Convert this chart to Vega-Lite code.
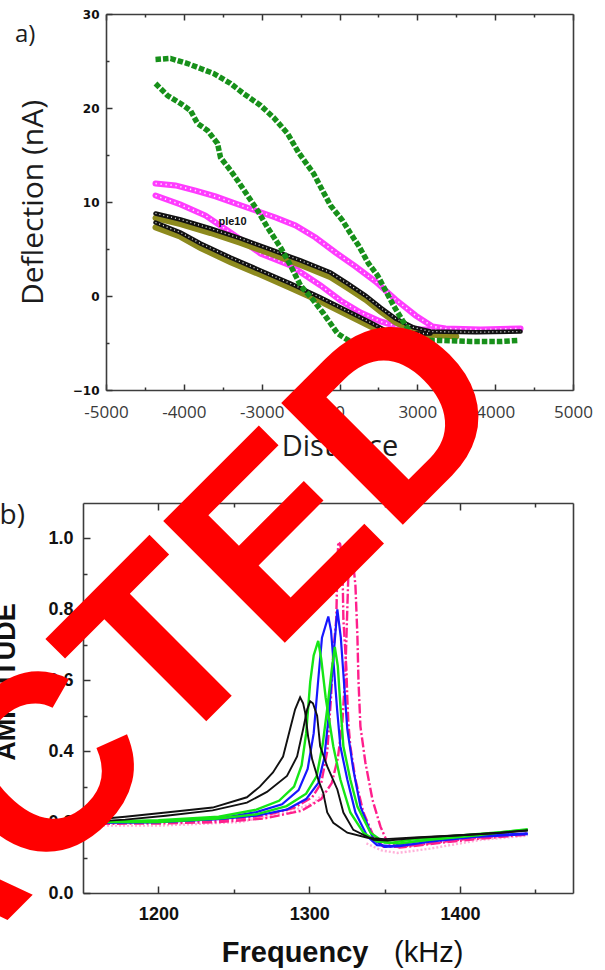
{
  "$schema": "https://vega.github.io/schema/vega-lite/v6.json",
  "autosize": {"type": "none"},
  "padding": {"left": 83, "top": 14, "right": 522, "bottom": 956},
  "background": "white",
  "bounds": "flush",
  "spacing": 113,
  "config": {
    "view": {"stroke": null},
    "axis": {"grid": false, "labelFlush": false, "labelOverlap": false}
  },
  "datasets": {
    "gr": [
      {"b":"u","d":-4728,"n":25.16},{"b":"u","d":-4342,"n":25.27},{"b":"u","d":-3905,"n":24.73},{"b":"u","d":-3571,"n":24.2},{"b":"u","d":-3237,"n":23.67},{"b":"u","d":-2800,"n":22.61},{"b":"u","d":-2466,"n":21.54},{"b":"u","d":-2029,"n":20.27},{"b":"u","d":-1695,"n":18.99},{"b":"u","d":-1335,"n":17.29},{"b":"u","d":-1053,"n":15.27},{"b":"u","d":-667,"n":13.03},{"b":"u","d":-410,"n":11.01},{"b":"u","d":-230,"n":9.63},{"b":"u","d":78,"n":8.03},{"b":"u","d":284,"n":6.65},{"b":"u","d":489,"n":5.37},{"b":"u","d":746,"n":3.46},{"b":"u","d":978,"n":2.18},{"b":"u","d":1183,"n":0.59},{"b":"u","d":1389,"n":-1.01},{"b":"u","d":1620,"n":-2.61},{"b":"u","d":1826,"n":-3.88},{"b":"u","d":2083,"n":-4.73},{"b":"u","d":2597,"n":-4.73},{"b":"u","d":3368,"n":-4.84},{"b":"u","d":4139,"n":-4.84},{"b":"u","d":4601,"n":-4.73},
      {"b":"l","d":-4728,"n":22.61},{"b":"l","d":-4419,"n":21.33},{"b":"l","d":-4085,"n":20.48},{"b":"l","d":-3828,"n":19.73},{"b":"l","d":-3648,"n":18.35},{"b":"l","d":-3391,"n":17.61},{"b":"l","d":-3134,"n":16.22},{"b":"l","d":-3057,"n":14.73},{"b":"l","d":-2800,"n":13.35},{"b":"l","d":-2620,"n":12.29},{"b":"l","d":-2363,"n":10.69},{"b":"l","d":-2106,"n":9.1},{"b":"l","d":-1849,"n":7.29},{"b":"l","d":-1515,"n":5.16},{"b":"l","d":-1258,"n":3.24},{"b":"l","d":-1001,"n":1.12},{"b":"l","d":-667,"n":-0.48},{"b":"l","d":-410,"n":-1.86},{"b":"l","d":-230,"n":-2.93},{"b":"l","d":-50,"n":-3.99},{"b":"l","d":104,"n":-4.41},{"b":"l","d":284,"n":-4.84},{"b":"l","d":800,"n":-5.0},{"b":"l","d":1400,"n":-5.0},{"b":"l","d":2000,"n":-4.9}
    ],
    "mg": [
      {"b":"u","d":-4728,"n":11.97},{"b":"u","d":-4214,"n":11.76},{"b":"u","d":-3700,"n":11.22},{"b":"u","d":-3186,"n":10.59},{"b":"u","d":-2672,"n":9.84},{"b":"u","d":-2158,"n":9.1},{"b":"u","d":-1644,"n":8.35},{"b":"u","d":-1130,"n":7.5},{"b":"u","d":-616,"n":6.22},{"b":"u","d":-102,"n":4.63},{"b":"u","d":412,"n":3.14},{"b":"u","d":926,"n":1.54},{"b":"u","d":1440,"n":-0.37},{"b":"u","d":1954,"n":-2.07},{"b":"u","d":2391,"n":-3.24},{"b":"u","d":2725,"n":-3.46},{"b":"u","d":3625,"n":-3.56},{"b":"u","d":4653,"n":-3.46},
      {"b":"l","d":-4728,"n":10.69},{"b":"l","d":-4085,"n":9.73},{"b":"l","d":-3443,"n":8.56},{"b":"l","d":-2800,"n":6.76},{"b":"l","d":-2029,"n":4.52},{"b":"l","d":-1258,"n":3.24},{"b":"l","d":-487,"n":1.12},{"b":"l","d":27,"n":-0.48},{"b":"l","d":541,"n":-1.76},{"b":"l","d":1055,"n":-2.71},{"b":"l","d":1569,"n":-3.35},{"b":"l","d":2083,"n":-3.56},{"b":"l","d":2597,"n":-3.56}
    ],
    "bk": [
      {"b":"u","d":-4728,"n":8.78},{"b":"u","d":-4085,"n":8.14},{"b":"u","d":-3314,"n":7.18},{"b":"u","d":-2543,"n":6.12},{"b":"u","d":-1772,"n":4.95},{"b":"u","d":-1001,"n":3.78},{"b":"u","d":-230,"n":2.5},{"b":"u","d":207,"n":1.33},{"b":"u","d":669,"n":0.05},{"b":"u","d":1055,"n":-1.22},{"b":"u","d":1440,"n":-2.39},{"b":"u","d":1903,"n":-3.35},{"b":"u","d":2340,"n":-3.78},{"b":"u","d":3500,"n":-3.85},{"b":"u","d":4653,"n":-3.78},
      {"b":"l","d":-4728,"n":7.82},{"b":"l","d":-4085,"n":6.76},{"b":"l","d":-3571,"n":5.59},{"b":"l","d":-2800,"n":4.1},{"b":"l","d":-2029,"n":2.71},{"b":"l","d":-1258,"n":1.33},{"b":"l","d":-487,"n":-0.16},{"b":"l","d":284,"n":-1.76},{"b":"l","d":798,"n":-2.82},{"b":"l","d":1183,"n":-3.67},{"b":"l","d":1569,"n":-3.99},{"b":"l","d":2340,"n":-3.99}
    ],
    "ol": [
      {"b":"u","d":-4728,"n":8.3},{"b":"u","d":-4085,"n":7.65},{"b":"u","d":-3314,"n":6.7},{"b":"u","d":-2543,"n":5.65},{"b":"u","d":-1772,"n":4.5},{"b":"u","d":-1001,"n":3.3},{"b":"u","d":-230,"n":2.0},{"b":"u","d":207,"n":0.85},{"b":"u","d":669,"n":-0.4},{"b":"u","d":1055,"n":-1.65},{"b":"u","d":1440,"n":-2.8},{"b":"u","d":1903,"n":-3.7},{"b":"u","d":2340,"n":-4.1},{"b":"u","d":3000,"n":-4.3},
      {"b":"l","d":-4728,"n":7.3},{"b":"l","d":-4085,"n":6.3},{"b":"l","d":-3571,"n":5.1},{"b":"l","d":-2800,"n":3.6},{"b":"l","d":-2029,"n":2.25},{"b":"l","d":-1258,"n":0.85},{"b":"l","d":-487,"n":-0.6},{"b":"l","d":284,"n":-2.2},{"b":"l","d":798,"n":-3.25},{"b":"l","d":1183,"n":-4.0},{"b":"l","d":1569,"n":-4.3},{"b":"l","d":2340,"n":-4.4}
    ],
    "amp": [
      {"c":"k1","f":1150,"a":0.205},{"c":"k1","f":1165,"a":0.21},{"c":"k1","f":1178,"a":0.215},{"c":"k1","f":1205,"a":0.227},{"c":"k1","f":1236,"a":0.241},{"c":"k1","f":1258.7,"a":0.27},{"c":"k1","f":1267.3,"a":0.3},{"c":"k1","f":1276,"a":0.34},{"c":"k1","f":1282.7,"a":0.385},{"c":"k1","f":1287.3,"a":0.462},{"c":"k1","f":1290.7,"a":0.518},{"c":"k1","f":1294,"a":0.552},{"c":"k1","f":1296,"a":0.535},{"c":"k1","f":1297.3,"a":0.51},{"c":"k1","f":1299.3,"a":0.442},{"c":"k1","f":1302,"a":0.377},{"c":"k1","f":1306,"a":0.32},{"c":"k1","f":1309.3,"a":0.283},{"c":"k1","f":1312,"a":0.227},{"c":"k1","f":1316,"a":0.198},{"c":"k1","f":1325.3,"a":0.17},{"c":"k1","f":1338.7,"a":0.156},{"c":"k1","f":1350,"a":0.152},{"c":"k1","f":1370,"a":0.157},{"c":"k1","f":1400,"a":0.163},{"c":"k1","f":1427,"a":0.17},{"c":"k1","f":1445,"a":0.176},
      {"c":"k2","f":1150,"a":0.2},{"c":"k2","f":1178,"a":0.207},{"c":"k2","f":1205,"a":0.218},{"c":"k2","f":1236,"a":0.233},{"c":"k2","f":1258.7,"a":0.255},{"c":"k2","f":1272,"a":0.285},{"c":"k2","f":1285.3,"a":0.33},{"c":"k2","f":1292,"a":0.385},{"c":"k2","f":1296,"a":0.462},{"c":"k2","f":1298.7,"a":0.518},{"c":"k2","f":1300.7,"a":0.541},{"c":"k2","f":1302.5,"a":0.535},{"c":"k2","f":1305.3,"a":0.5},{"c":"k2","f":1307.3,"a":0.414},{"c":"k2","f":1312,"a":0.357},{"c":"k2","f":1318.7,"a":0.292},{"c":"k2","f":1322.7,"a":0.227},{"c":"k2","f":1329.3,"a":0.178},{"c":"k2","f":1342.7,"a":0.15},{"c":"k2","f":1352,"a":0.148},{"c":"k2","f":1370,"a":0.155},{"c":"k2","f":1400,"a":0.163},{"c":"k2","f":1427,"a":0.17},{"c":"k2","f":1445,"a":0.177},
      {"c":"g1","f":1150,"a":0.2},{"c":"g1","f":1200,"a":0.205},{"c":"g1","f":1240,"a":0.215},{"c":"g1","f":1265,"a":0.235},{"c":"g1","f":1280,"a":0.26},{"c":"g1","f":1290,"a":0.3},{"c":"g1","f":1295,"a":0.36},{"c":"g1","f":1298,"a":0.45},{"c":"g1","f":1300.7,"a":0.595},{"c":"g1","f":1303,"a":0.67},{"c":"g1","f":1306,"a":0.711},{"c":"g1","f":1308,"a":0.66},{"c":"g1","f":1311,"a":0.55},{"c":"g1","f":1316,"a":0.414},{"c":"g1","f":1320.7,"a":0.32},{"c":"g1","f":1327.3,"a":0.227},{"c":"g1","f":1336,"a":0.17},{"c":"g1","f":1345,"a":0.145},{"c":"g1","f":1355,"a":0.142},{"c":"g1","f":1370,"a":0.152},{"c":"g1","f":1400,"a":0.162},{"c":"g1","f":1445,"a":0.178},
      {"c":"b1","f":1150,"a":0.198},{"c":"b1","f":1200,"a":0.2},{"c":"b1","f":1240,"a":0.21},{"c":"b1","f":1265,"a":0.228},{"c":"b1","f":1282,"a":0.25},{"c":"b1","f":1293,"a":0.29},{"c":"b1","f":1299,"a":0.35},{"c":"b1","f":1303,"a":0.45},{"c":"b1","f":1306,"a":0.6},{"c":"b1","f":1308.5,"a":0.72},{"c":"b1","f":1312.7,"a":0.78},{"c":"b1","f":1314.5,"a":0.74},{"c":"b1","f":1316,"a":0.66},{"c":"b1","f":1318.5,"a":0.52},{"c":"b1","f":1320.7,"a":0.414},{"c":"b1","f":1325.3,"a":0.32},{"c":"b1","f":1330.7,"a":0.227},{"c":"b1","f":1338.7,"a":0.159},{"c":"b1","f":1345,"a":0.135},{"c":"b1","f":1355,"a":0.132},{"c":"b1","f":1370,"a":0.145},{"c":"b1","f":1400,"a":0.16},{"c":"b1","f":1445,"a":0.168},
      {"c":"g2","f":1150,"a":0.2},{"c":"g2","f":1200,"a":0.2},{"c":"g2","f":1240,"a":0.21},{"c":"g2","f":1265,"a":0.222},{"c":"g2","f":1285,"a":0.245},{"c":"g2","f":1298,"a":0.28},{"c":"g2","f":1305,"a":0.33},{"c":"g2","f":1309,"a":0.42},{"c":"g2","f":1312,"a":0.52},{"c":"g2","f":1315,"a":0.63},{"c":"g2","f":1317,"a":0.694},{"c":"g2","f":1319,"a":0.64},{"c":"g2","f":1320.7,"a":0.53},{"c":"g2","f":1322.7,"a":0.414},{"c":"g2","f":1327.3,"a":0.32},{"c":"g2","f":1332,"a":0.244},{"c":"g2","f":1340.7,"a":0.17},{"c":"g2","f":1350,"a":0.142},{"c":"g2","f":1360,"a":0.14},{"c":"g2","f":1380,"a":0.15},{"c":"g2","f":1410,"a":0.162},{"c":"g2","f":1445,"a":0.18},
      {"c":"b2","f":1150,"a":0.198},{"c":"b2","f":1200,"a":0.2},{"c":"b2","f":1240,"a":0.208},{"c":"b2","f":1265,"a":0.218},{"c":"b2","f":1285,"a":0.235},{"c":"b2","f":1298,"a":0.265},{"c":"b2","f":1306,"a":0.31},{"c":"b2","f":1310,"a":0.38},{"c":"b2","f":1313,"a":0.5},{"c":"b2","f":1316,"a":0.66},{"c":"b2","f":1318.7,"a":0.8},{"c":"b2","f":1321,"a":0.72},{"c":"b2","f":1323,"a":0.6},{"c":"b2","f":1325.3,"a":0.462},{"c":"b2","f":1329.3,"a":0.348},{"c":"b2","f":1334,"a":0.244},{"c":"b2","f":1342.7,"a":0.15},{"c":"b2","f":1350,"a":0.13},{"c":"b2","f":1360,"a":0.132},{"c":"b2","f":1380,"a":0.145},{"c":"b2","f":1410,"a":0.158},{"c":"b2","f":1445,"a":0.166},
      {"c":"p1","f":1150,"a":0.198},{"c":"p1","f":1200,"a":0.2},{"c":"p1","f":1240,"a":0.205},{"c":"p1","f":1270,"a":0.218},{"c":"p1","f":1290,"a":0.24},{"c":"p1","f":1302,"a":0.27},{"c":"p1","f":1308,"a":0.31},{"c":"p1","f":1312,"a":0.4},{"c":"p1","f":1314.5,"a":0.55},{"c":"p1","f":1316,"a":0.68},{"c":"p1","f":1318,"a":0.773},{"c":"p1","f":1318.7,"a":0.915},{"c":"p1","f":1319.3,"a":0.99},{"c":"p1","f":1320.5,"a":0.985},{"c":"p1","f":1322,"a":0.95},{"c":"p1","f":1322.7,"a":0.773},{"c":"p1","f":1324.7,"a":0.632},{"c":"p1","f":1325.3,"a":0.55},{"c":"p1","f":1326,"a":0.48},{"c":"p1","f":1327.3,"a":0.414},{"c":"p1","f":1330.7,"a":0.32},{"c":"p1","f":1336,"a":0.227},{"c":"p1","f":1342.7,"a":0.16},{"c":"p1","f":1349.3,"a":0.13},{"c":"p1","f":1360,"a":0.13},{"c":"p1","f":1380,"a":0.14},{"c":"p1","f":1410,"a":0.155},{"c":"p1","f":1445,"a":0.168},
      {"c":"p2","f":1150,"a":0.195},{"c":"p2","f":1200,"a":0.196},{"c":"p2","f":1240,"a":0.2},{"c":"p2","f":1270,"a":0.21},{"c":"p2","f":1295,"a":0.232},{"c":"p2","f":1308,"a":0.265},{"c":"p2","f":1315,"a":0.31},{"c":"p2","f":1319,"a":0.38},{"c":"p2","f":1322,"a":0.48},{"c":"p2","f":1324,"a":0.62},{"c":"p2","f":1325.3,"a":0.8},{"c":"p2","f":1326.3,"a":0.94},{"c":"p2","f":1327.3,"a":0.986},{"c":"p2","f":1328.5,"a":0.96},{"c":"p2","f":1330.7,"a":0.867},{"c":"p2","f":1332,"a":0.725},{"c":"p2","f":1332.7,"a":0.6},{"c":"p2","f":1334,"a":0.47},{"c":"p2","f":1337.3,"a":0.368},{"c":"p2","f":1342,"a":0.263},{"c":"p2","f":1347.3,"a":0.187},{"c":"p2","f":1352,"a":0.142},{"c":"p2","f":1360,"a":0.128},{"c":"p2","f":1380,"a":0.138},{"c":"p2","f":1410,"a":0.152},{"c":"p2","f":1445,"a":0.165},
      {"c":"lpL","f":1150,"a":0.19},{"c":"lpL","f":1200,"a":0.19},{"c":"lpL","f":1254,"a":0.2},{"c":"lpL","f":1287,"a":0.228},{"c":"lpL","f":1303,"a":0.255},{"c":"lpL","f":1312,"a":0.29},
      {"c":"lpR","f":1338,"a":0.14},{"c":"lpR","f":1348,"a":0.12},{"c":"lpR","f":1358.7,"a":0.113},{"c":"lpR","f":1380,"a":0.125},{"c":"lpR","f":1414,"a":0.15},{"c":"lpR","f":1445,"a":0.162}
    ]
  },
  "vconcat": [
    {
      "width": 490,
      "height": 376,
      "resolve": {"axis": {"x": "independent", "y": "independent"}},
      "layer": [
        {
          "data": {"values": []},
          "mark": "point",
          "encoding": {
            "x": {"field": "d", "type": "quantitative", "scale": {"domain": [-6000, 6000], "range": [23, 490], "nice": false, "zero": false},
              "axis": {"orient": "bottom", "values": [-6000, -4000, -2000, 0, 2000, 4000, 6000],
                "labelExpr": "datum.value == -6000 ? '-5000' : datum.value == -4000 ? '-4000' : datum.value == -2000 ? '-3000' : datum.value == 0 ? '0' : datum.value == 2000 ? '3000' : datum.value == 4000 ? '4000' : '5000'",
                "ticks": false, "domain": false, "labelFont": "Open Sans", "labelFontSize": 17, "labelColor": "#3a3a3a", "labelPadding": 14,
                "title": "Distance", "titleFont": "Open Sans", "titleFontSize": 29, "titleFontWeight": "normal", "titleColor": "#1c1c1c", "titlePadding": 12}},
            "y": {"field": "n", "type": "quantitative", "scale": {"domain": [-10, 30], "nice": false, "zero": false},
              "axis": {"orient": "left", "offset": -23, "values": [-10, 0, 10, 20, 30], "ticks": false, "domain": false,
                "labelFont": "DejaVu Sans", "labelFontSize": 12, "labelFontWeight": "bold", "labelColor": "#111111", "labelPadding": 7,
                "title": "Deflection (nA)", "titleFont": "Open Sans", "titleFontSize": 30, "titleFontWeight": "normal", "titleColor": "#1c1c1c", "titlePadding": 24}}
          }
        },
        {
          "data": {"values": []},
          "mark": "point",
          "encoding": {
            "x": {"field": "d", "type": "quantitative", "scale": {"domain": [-6000, 6000], "range": [23, 490], "nice": false, "zero": false},
              "axis": {"orient": "bottom", "values": [-6000, -4000, -2000, 0, 2000, 4000, 6000], "labels": false, "title": null, "domain": true, "domainColor": "#3d3d3d", "domainWidth": 1.6, "tickSize": -6, "tickColor": "#333333", "tickWidth": 1.5}},
            "y": {"field": "n", "type": "quantitative", "scale": {"domain": [-10, 30], "nice": false, "zero": false},
              "axis": {"orient": "left", "offset": -23, "values": [-10, 0, 10, 20, 30], "labels": false, "title": null, "domain": true, "domainColor": "#3d3d3d", "domainWidth": 1.6, "tickSize": -6, "tickColor": "#333333", "tickWidth": 1.5}}
          }
        },
        {
          "data": {"values": []},
          "mark": "point",
          "encoding": {
            "x": {"field": "d", "type": "quantitative", "scale": {"domain": [-6000, 6000], "range": [23, 490], "nice": false, "zero": false},
              "axis": {"orient": "bottom", "values": [-5000, -3000, -1000, 1000, 3000, 5000], "labels": false, "title": null, "domain": false, "tickSize": -3, "tickColor": "#333333", "tickWidth": 1.5}},
            "y": {"field": "n", "type": "quantitative", "scale": {"domain": [-10, 30], "nice": false, "zero": false},
              "axis": {"orient": "left", "offset": -23, "values": [-5, 5, 15, 25], "labels": false, "title": null, "domain": false, "tickSize": -3, "tickColor": "#333333", "tickWidth": 1.5}}
          }
        },
        {
          "data": {"values": []},
          "mark": "point",
          "encoding": {
            "x": {"field": "d", "type": "quantitative", "scale": {"domain": [-6000, 6000], "range": [23, 490], "nice": false, "zero": false},
              "axis": {"orient": "top", "values": [-6000, -4000, -2000, 0, 2000, 4000, 6000], "labels": false, "title": null, "domain": true, "domainColor": "#3d3d3d", "domainWidth": 1.6, "tickSize": -6, "tickColor": "#333333", "tickWidth": 1.5}},
            "y": {"field": "n", "type": "quantitative", "scale": {"domain": [-10, 30], "nice": false, "zero": false},
              "axis": {"orient": "right", "labels": false, "ticks": false, "title": null, "domain": true, "domainColor": "#3d3d3d", "domainWidth": 1.6}}
          }
        },
        {
          "data": {"values": []},
          "mark": "point",
          "encoding": {
            "x": {"field": "d", "type": "quantitative", "scale": {"domain": [-6000, 6000], "range": [23, 490], "nice": false, "zero": false},
              "axis": {"orient": "top", "values": [-5000, -3000, -1000, 1000, 3000, 5000], "labels": false, "title": null, "domain": false, "tickSize": -3, "tickColor": "#333333", "tickWidth": 1.5}}
          }
        },
        {
          "data": {"name": "mg"},
          "mark": {"type": "line", "color": "#ff3cff", "strokeWidth": 6, "strokeCap": "round"},
          "encoding": {
            "x": {"field": "d", "type": "quantitative", "axis": null},
            "y": {"field": "n", "type": "quantitative", "axis": null},
            "detail": {"field": "b"}
          }
        },
        {
          "data": {"name": "mg"},
          "mark": {"type": "line", "color": "#ffffff", "strokeWidth": 1.6, "strokeDash": [1.3, 3.7], "opacity": 0.9},
          "encoding": {
            "x": {"field": "d", "type": "quantitative", "axis": null},
            "y": {"field": "n", "type": "quantitative", "axis": null},
            "detail": {"field": "b"}
          }
        },
        {
          "data": {"name": "ol"},
          "mark": {"type": "line", "color": "#8d8a1e", "strokeWidth": 6, "strokeCap": "round"},
          "encoding": {
            "x": {"field": "d", "type": "quantitative", "axis": null},
            "y": {"field": "n", "type": "quantitative", "axis": null},
            "detail": {"field": "b"}
          }
        },
        {
          "data": {"name": "bk"},
          "mark": {"type": "line", "color": "#111111", "strokeWidth": 4.5, "strokeCap": "round"},
          "encoding": {
            "x": {"field": "d", "type": "quantitative", "axis": null},
            "y": {"field": "n", "type": "quantitative", "axis": null},
            "detail": {"field": "b"}
          }
        },
        {
          "data": {"name": "bk"},
          "mark": {"type": "line", "color": "#ffffff", "strokeWidth": 1.3, "strokeDash": [1, 3], "opacity": 0.9},
          "encoding": {
            "x": {"field": "d", "type": "quantitative", "axis": null},
            "y": {"field": "n", "type": "quantitative", "axis": null},
            "detail": {"field": "b"}
          }
        },
        {
          "data": {"values": [{"t": "ple10"}]},
          "mark": {"type": "text", "font": "Liberation Sans", "fontSize": 11, "fontWeight": "bold", "color": "#111111", "align": "center", "baseline": "middle"},
          "encoding": {
            "x": {"datum": -2749, "axis": null},
            "y": {"datum": 7.82, "axis": null},
            "text": {"field": "t"}
          }
        },
        {
          "data": {"name": "gr"},
          "mark": {"type": "line", "color": "#17901a", "strokeWidth": 5.5, "strokeDash": [5.5, 2], "strokeCap": "butt"},
          "encoding": {
            "x": {"field": "d", "type": "quantitative", "axis": null},
            "y": {"field": "n", "type": "quantitative", "axis": null},
            "detail": {"field": "b"}
          }
        },
        {
          "data": {"values": [{"t": "a)"}]},
          "mark": {"type": "text", "font": "Open Sans", "fontSize": 24, "color": "#1c1c1c", "align": "left", "baseline": "alphabetic"},
          "encoding": {
            "x": {"datum": -8339, "axis": null},
            "y": {"datum": 27.07, "axis": null},
            "text": {"field": "t"}
          }
        }
      ]
    },
    {
      "width": 490,
      "height": 390,
      "resolve": {"axis": {"x": "independent", "y": "independent"}},
      "layer": [
        {
          "data": {"values": []},
          "mark": "point",
          "encoding": {
            "x": {"field": "f", "type": "quantitative", "scale": {"domain": [1150, 1475], "nice": false, "zero": false},
              "axis": {"orient": "bottom", "values": [1200, 1300, 1400], "format": "d", "ticks": false, "domain": false, "labelFont": "Liberation Sans", "labelFontSize": 18, "labelFontWeight": "bold", "labelColor": "#111111", "labelPadding": 12, "title": null}},
            "y": {"field": "a", "type": "quantitative", "scale": {"domain": [0, 1.1], "nice": false, "zero": false},
              "axis": {"orient": "left", "values": [0, 0.2, 0.4, 0.6, 0.8, 1.0], "format": ".1f", "ticks": false, "domain": false,
                "labelFont": "Liberation Sans", "labelFontSize": 18, "labelFontWeight": "bold", "labelColor": "#111111", "labelPadding": 10, "title": null}}
          }
        },
        {
          "data": {"values": []},
          "mark": "point",
          "encoding": {
            "x": {"field": "f", "type": "quantitative", "scale": {"domain": [1150, 1475], "nice": false, "zero": false},
              "axis": {"orient": "bottom", "values": [1200, 1300, 1400], "labels": false, "title": null, "domain": true, "domainColor": "#3d3d3d", "domainWidth": 1.6, "tickSize": -7, "tickColor": "#333333", "tickWidth": 1.5}},
            "y": {"field": "a", "type": "quantitative", "scale": {"domain": [0, 1.1], "nice": false, "zero": false},
              "axis": {"orient": "left", "values": [0, 0.2, 0.4, 0.6, 0.8, 1.0], "labels": false, "title": null, "domain": true, "domainColor": "#3d3d3d", "domainWidth": 1.6, "tickSize": -7, "tickColor": "#333333", "tickWidth": 1.5}}
          }
        },
        {
          "data": {"values": []},
          "mark": "point",
          "encoding": {
            "x": {"field": "f", "type": "quantitative", "scale": {"domain": [1150, 1475], "nice": false, "zero": false},
              "axis": {"orient": "bottom", "values": [1250, 1350, 1450], "labels": false, "title": null, "domain": false, "tickSize": -4, "tickColor": "#333333", "tickWidth": 1.5}},
            "y": {"field": "a", "type": "quantitative", "scale": {"domain": [0, 1.1], "nice": false, "zero": false},
              "axis": {"orient": "left", "values": [0.1, 0.3, 0.5, 0.7, 0.9], "labels": false, "title": null, "domain": false, "tickSize": -4, "tickColor": "#333333", "tickWidth": 1.5}}
          }
        },
        {
          "data": {"values": []},
          "mark": "point",
          "encoding": {
            "x": {"field": "f", "type": "quantitative", "scale": {"domain": [1150, 1475], "nice": false, "zero": false},
              "axis": {"orient": "top", "values": [1200, 1300, 1400], "labels": false, "title": null, "domain": true, "domainColor": "#3d3d3d", "domainWidth": 1.6, "tickSize": -7, "tickColor": "#333333", "tickWidth": 1.5}},
            "y": {"field": "a", "type": "quantitative", "scale": {"domain": [0, 1.1], "nice": false, "zero": false},
              "axis": {"orient": "right", "labels": false, "ticks": false, "title": null, "domain": true, "domainColor": "#3d3d3d", "domainWidth": 1.6}}
          }
        },
        {
          "data": {"values": []},
          "mark": "point",
          "encoding": {
            "x": {"field": "f", "type": "quantitative", "scale": {"domain": [1150, 1475], "nice": false, "zero": false},
              "axis": {"orient": "top", "values": [1250, 1350, 1450], "labels": false, "title": null, "domain": false, "tickSize": -4, "tickColor": "#333333", "tickWidth": 1.5}}
          }
        },
        {
          "data": {"name": "amp"},
          "transform": [{"filter": {"field": "c", "oneOf": ["lpL", "lpR"]}}],
          "mark": {"type": "line", "color": "#ffb0d8", "strokeWidth": 2.4, "strokeDash": [2, 2]},
          "encoding": {
            "x": {"field": "f", "type": "quantitative", "axis": null},
            "y": {"field": "a", "type": "quantitative", "axis": null},
            "detail": {"field": "c"}
          }
        },
        {
          "data": {"name": "amp"},
          "transform": [{"filter": {"field": "c", "oneOf": ["p1", "p2"]}}],
          "mark": {"type": "line", "color": "#ff1f8c", "strokeWidth": 2.4, "strokeDash": [10, 2.5, 2, 2.5]},
          "encoding": {
            "x": {"field": "f", "type": "quantitative", "axis": null},
            "y": {"field": "a", "type": "quantitative", "axis": null},
            "detail": {"field": "c"}
          }
        },
        {
          "data": {"name": "amp"},
          "transform": [{"filter": {"field": "c", "oneOf": ["b1", "b2"]}}],
          "mark": {"type": "line", "color": "#1717ff", "strokeWidth": 2.2},
          "encoding": {
            "x": {"field": "f", "type": "quantitative", "axis": null},
            "y": {"field": "a", "type": "quantitative", "axis": null},
            "detail": {"field": "c"}
          }
        },
        {
          "data": {"name": "amp"},
          "transform": [{"filter": {"field": "c", "oneOf": ["g1", "g2"]}}],
          "mark": {"type": "line", "color": "#16e616", "strokeWidth": 2.4},
          "encoding": {
            "x": {"field": "f", "type": "quantitative", "axis": null},
            "y": {"field": "a", "type": "quantitative", "axis": null},
            "detail": {"field": "c"}
          }
        },
        {
          "data": {"name": "amp"},
          "transform": [{"filter": {"field": "c", "oneOf": ["k1", "k2"]}}],
          "mark": {"type": "line", "color": "#111111", "strokeWidth": 1.9},
          "encoding": {
            "x": {"field": "f", "type": "quantitative", "axis": null},
            "y": {"field": "a", "type": "quantitative", "axis": null},
            "detail": {"field": "c"}
          }
        },
        {
          "data": {"values": [{"t": "b)"}]},
          "mark": {"type": "text", "font": "Open Sans", "fontSize": 28, "color": "#1c1c1c", "align": "left", "baseline": "alphabetic"},
          "encoding": {"x": {"datum": 1094.7, "axis": null}, "y": {"datum": 1.042, "axis": null}, "text": {"field": "t"}}
        },
        {
          "data": {"values": [{"t": "AMPLITUDE"}]},
          "mark": {"type": "text", "font": "Liberation Sans", "fontSize": 27, "fontWeight": "bold", "color": "#111111", "align": "center", "baseline": "middle", "angle": 270},
          "encoding": {"x": {"datum": 1099.3, "axis": null}, "y": {"datum": 0.595, "axis": null}, "text": {"field": "t"}}
        },
        {
          "data": {"values": [{"t": "Frequency"}]},
          "mark": {"type": "text", "font": "Liberation Sans", "fontSize": 29, "fontWeight": "bold", "color": "#111111", "align": "center", "baseline": "alphabetic", "dy": 69},
          "encoding": {"x": {"datum": 1290.7, "axis": null}, "y": {"datum": 0, "axis": null}, "text": {"field": "t"}}
        },
        {
          "data": {"values": [{"t": "(kHz)"}]},
          "mark": {"type": "text", "font": "Liberation Sans", "fontSize": 29, "color": "#111111", "align": "center", "baseline": "alphabetic", "dy": 69},
          "encoding": {"x": {"datum": 1379.3, "axis": null}, "y": {"datum": 0, "axis": null}, "text": {"field": "t"}}
        },
        {
          "data": {"values": [{"t": "REDACTED"}]},
          "mark": {"type": "text", "font": "Liberation Sans", "fontSize": 250, "fontWeight": "bold", "color": "#ff0000", "align": "center", "baseline": "middle", "angle": 315},
          "encoding": {"x": {"datum": 1078, "axis": null}, "y": {"datum": 0.13, "axis": null}, "text": {"field": "t"}}
        }
      ]
    }
  ]
}
